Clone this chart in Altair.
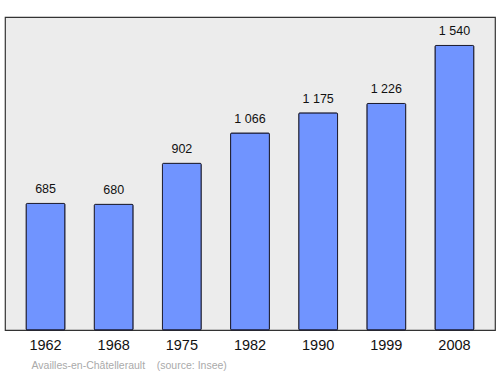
import altair as alt
import pandas as pd

years = ["1962", "1968", "1975", "1982", "1990", "1999", "2008"]
population = [685, 680, 902, 1066, 1175, 1226, 1540]
labels = ["685", "680", "902", "1 066", "1 175", "1 226", "1 540"]

df = pd.DataFrame({"year": years, "pop": population, "label": labels})

FONT = "Liberation Sans"

base = alt.Chart(df).encode(
    x=alt.X(
        "year:N",
        sort=years,
        scale=alt.Scale(paddingInner=0.43, paddingOuter=0.31),
        axis=alt.Axis(
            title="Availles-en-Châtellerault\u00a0\u00a0\u00a0\u00a0(source: Insee)",
            titleColor="#aaaaaa",
            titleFontSize=10.5,
            titleFontWeight="normal",
            titleFont=FONT,
            titleX=26,
            titleY=38,
            titleAlign="left",
            titleBaseline="alphabetic",
            labelAngle=0,
            labelFontSize=14.5,
            labelFont=FONT,
            labelColor="#111111",
            labelPadding=8,
            ticks=False,
            domain=False,
        ),
    ),
    y=alt.Y(
        "pop:Q",
        scale=alt.Scale(domain=[0, 1694], nice=False),
        axis=None,
    ),
)

bars = base.mark_bar(
    color="#7094ff", stroke="#1a1a2e", strokeWidth=1, cornerRadius=1
)

text = base.mark_text(
    dy=-10, baseline="alphabetic", fontSize=12.5, font=FONT, color="#111111"
).encode(text="label:N")

chart = (
    (bars + text)
    .properties(
        width=490,
        height=313,
        autosize=alt.AutoSizeParams(type="none"),
        padding={"left": 5, "top": 17, "right": 5, "bottom": 44},
        background="white",
    )
    .configure_view(fill="#ececec", stroke="#333333", strokeWidth=1.2)
)

chart.save("out.html", embed_options={"renderer": "svg", "actions": False})
